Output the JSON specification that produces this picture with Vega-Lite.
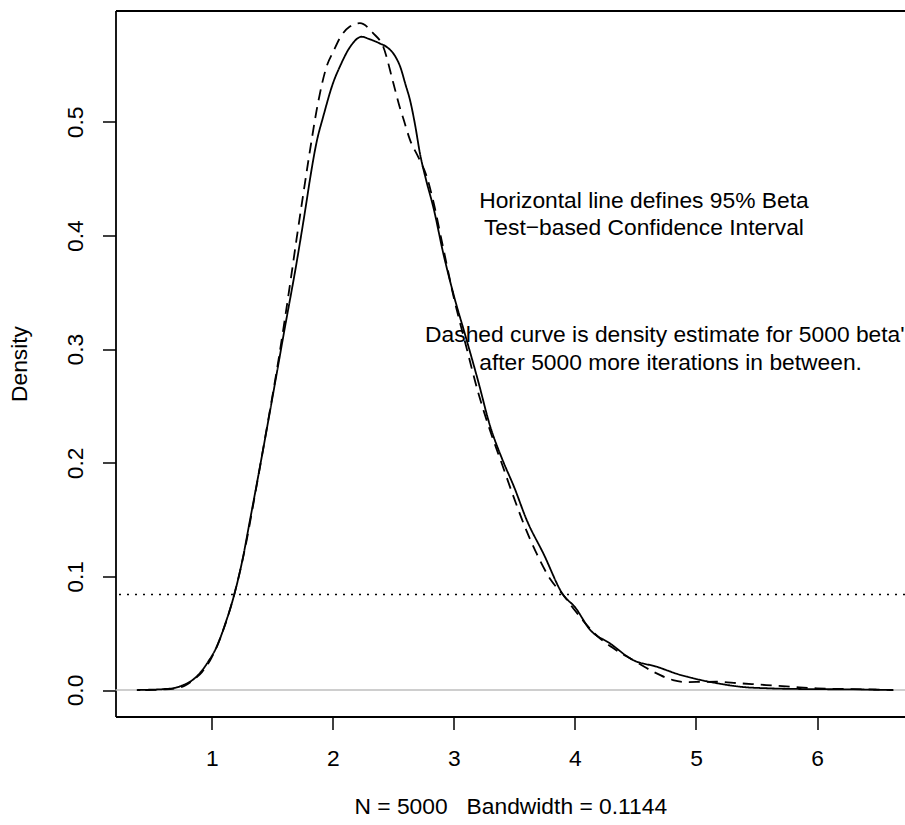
{
  "$schema": "https://vega.github.io/schema/vega-lite/v6.json",
  "width": 789.5,
  "height": 706,
  "autosize": "none",
  "padding": {"left": 115.5, "top": 10.5, "right": 0, "bottom": 108.5},
  "background": "white",
  "config": {"view": {"stroke": null}, "font": "Liberation Sans"},
  "datasets": {
    "curves": [
      {"series": "solid", "x": 0.38, "y": 0.0},
      {"series": "solid", "x": 0.5, "y": 0.0003},
      {"series": "solid", "x": 0.6, "y": 0.0008},
      {"series": "solid", "x": 0.7, "y": 0.002},
      {"series": "solid", "x": 0.764, "y": 0.0044},
      {"series": "solid", "x": 0.83, "y": 0.008},
      {"series": "solid", "x": 0.9, "y": 0.0147},
      {"series": "solid", "x": 0.97, "y": 0.025},
      {"series": "solid", "x": 1.04, "y": 0.038},
      {"series": "solid", "x": 1.11, "y": 0.058},
      {"series": "solid", "x": 1.18, "y": 0.082},
      {"series": "solid", "x": 1.25, "y": 0.113},
      {"series": "solid", "x": 1.316, "y": 0.15},
      {"series": "solid", "x": 1.4, "y": 0.198},
      {"series": "solid", "x": 1.5, "y": 0.257},
      {"series": "solid", "x": 1.6, "y": 0.317},
      {"series": "solid", "x": 1.7, "y": 0.376},
      {"series": "solid", "x": 1.784, "y": 0.431},
      {"series": "solid", "x": 1.81, "y": 0.449},
      {"series": "solid", "x": 1.867, "y": 0.483},
      {"series": "solid", "x": 1.921, "y": 0.505},
      {"series": "solid", "x": 2.004, "y": 0.535},
      {"series": "solid", "x": 2.059, "y": 0.549},
      {"series": "solid", "x": 2.142, "y": 0.566},
      {"series": "solid", "x": 2.238, "y": 0.575},
      {"series": "solid", "x": 2.3, "y": 0.573},
      {"series": "solid", "x": 2.39, "y": 0.569},
      {"series": "solid", "x": 2.445, "y": 0.566},
      {"series": "solid", "x": 2.514, "y": 0.558},
      {"series": "solid", "x": 2.555, "y": 0.549},
      {"series": "solid", "x": 2.6, "y": 0.533},
      {"series": "solid", "x": 2.638, "y": 0.519},
      {"series": "solid", "x": 2.68, "y": 0.497},
      {"series": "solid", "x": 2.72, "y": 0.472},
      {"series": "solid", "x": 2.77, "y": 0.449},
      {"series": "solid", "x": 2.83, "y": 0.425},
      {"series": "solid", "x": 2.913, "y": 0.384},
      {"series": "solid", "x": 3.0, "y": 0.347},
      {"series": "solid", "x": 3.1, "y": 0.31},
      {"series": "solid", "x": 3.2, "y": 0.272},
      {"series": "solid", "x": 3.3, "y": 0.232},
      {"series": "solid", "x": 3.4, "y": 0.203},
      {"series": "solid", "x": 3.5, "y": 0.178},
      {"series": "solid", "x": 3.6, "y": 0.15},
      {"series": "solid", "x": 3.74, "y": 0.12},
      {"series": "solid", "x": 3.904, "y": 0.0836},
      {"series": "solid", "x": 4.0, "y": 0.073},
      {"series": "solid", "x": 4.125, "y": 0.053},
      {"series": "solid", "x": 4.29, "y": 0.041},
      {"series": "solid", "x": 4.48, "y": 0.0264},
      {"series": "solid", "x": 4.676, "y": 0.0205},
      {"series": "solid", "x": 4.85, "y": 0.014},
      {"series": "solid", "x": 5.04, "y": 0.0088},
      {"series": "solid", "x": 5.2, "y": 0.0055},
      {"series": "solid", "x": 5.365, "y": 0.0029},
      {"series": "solid", "x": 5.6, "y": 0.0015},
      {"series": "solid", "x": 5.86, "y": 0.0009},
      {"series": "solid", "x": 6.1, "y": 0.0007},
      {"series": "solid", "x": 6.3, "y": 0.0006},
      {"series": "solid", "x": 6.5, "y": 0.0002},
      {"series": "solid", "x": 6.63, "y": 0.0},
      {"series": "dashed", "x": 0.45, "y": 0.0},
      {"series": "dashed", "x": 0.6, "y": 0.0005},
      {"series": "dashed", "x": 0.7, "y": 0.0015},
      {"series": "dashed", "x": 0.78, "y": 0.004},
      {"series": "dashed", "x": 0.847, "y": 0.0088},
      {"series": "dashed", "x": 0.92, "y": 0.016},
      {"series": "dashed", "x": 0.985, "y": 0.026},
      {"series": "dashed", "x": 1.04, "y": 0.038},
      {"series": "dashed", "x": 1.095, "y": 0.053},
      {"series": "dashed", "x": 1.18, "y": 0.082},
      {"series": "dashed", "x": 1.288, "y": 0.132},
      {"series": "dashed", "x": 1.35, "y": 0.168},
      {"series": "dashed", "x": 1.45, "y": 0.228},
      {"series": "dashed", "x": 1.55, "y": 0.29},
      {"series": "dashed", "x": 1.65, "y": 0.36},
      {"series": "dashed", "x": 1.7, "y": 0.397},
      {"series": "dashed", "x": 1.756, "y": 0.437},
      {"series": "dashed", "x": 1.811, "y": 0.475},
      {"series": "dashed", "x": 1.867, "y": 0.511},
      {"series": "dashed", "x": 1.949, "y": 0.549},
      {"series": "dashed", "x": 2.004, "y": 0.562},
      {"series": "dashed", "x": 2.059, "y": 0.574},
      {"series": "dashed", "x": 2.14, "y": 0.584},
      {"series": "dashed", "x": 2.224, "y": 0.587},
      {"series": "dashed", "x": 2.334, "y": 0.578},
      {"series": "dashed", "x": 2.417, "y": 0.566},
      {"series": "dashed", "x": 2.5, "y": 0.534},
      {"series": "dashed", "x": 2.555, "y": 0.512},
      {"series": "dashed", "x": 2.582, "y": 0.503},
      {"series": "dashed", "x": 2.638, "y": 0.484},
      {"series": "dashed", "x": 2.706, "y": 0.469},
      {"series": "dashed", "x": 2.775, "y": 0.452},
      {"series": "dashed", "x": 2.83, "y": 0.43},
      {"series": "dashed", "x": 2.9, "y": 0.395},
      {"series": "dashed", "x": 3.0, "y": 0.345},
      {"series": "dashed", "x": 3.1, "y": 0.303},
      {"series": "dashed", "x": 3.2, "y": 0.262},
      {"series": "dashed", "x": 3.3, "y": 0.228},
      {"series": "dashed", "x": 3.4, "y": 0.198},
      {"series": "dashed", "x": 3.5, "y": 0.168},
      {"series": "dashed", "x": 3.574, "y": 0.147},
      {"series": "dashed", "x": 3.684, "y": 0.12},
      {"series": "dashed", "x": 3.8, "y": 0.097},
      {"series": "dashed", "x": 3.904, "y": 0.0836},
      {"series": "dashed", "x": 4.0, "y": 0.07},
      {"series": "dashed", "x": 4.18, "y": 0.048},
      {"series": "dashed", "x": 4.3, "y": 0.038},
      {"series": "dashed", "x": 4.48, "y": 0.0264},
      {"series": "dashed", "x": 4.65, "y": 0.016},
      {"series": "dashed", "x": 4.81, "y": 0.0088},
      {"series": "dashed", "x": 4.92, "y": 0.007},
      {"series": "dashed", "x": 5.05, "y": 0.0072},
      {"series": "dashed", "x": 5.17, "y": 0.0073},
      {"series": "dashed", "x": 5.35, "y": 0.006},
      {"series": "dashed", "x": 5.58, "y": 0.0044},
      {"series": "dashed", "x": 5.8, "y": 0.0028},
      {"series": "dashed", "x": 6.0, "y": 0.0015},
      {"series": "dashed", "x": 6.3, "y": 0.0008},
      {"series": "dashed", "x": 6.63, "y": 0.0}
    ]
  },
  "resolve": {"axis": {"x": "independent"}},
  "layer": [
    {
      "data": {"values": [{"y": 0}]},
      "mark": {"type": "rule", "color": "#bebebe", "strokeWidth": 1.5},
      "encoding": {
        "y": {
          "field": "y", "type": "quantitative",
          "scale": {"domain": [-0.0233, 0.5981], "nice": false, "zero": false},
          "axis": {
            "values": [0, 0.1, 0.2, 0.3, 0.4, 0.5], "format": ".1f", "grid": false,
            "domainColor": "black", "domainWidth": 1.8,
            "tickSize": 13, "tickWidth": 1.5, "tickColor": "black",
            "labelFontSize": 22.8, "labelFont": "Liberation Sans", "labelColor": "black",
            "labelAngle": 270, "labelAlign": "center", "labelBaseline": "alphabetic", "labelPadding": 20,
            "labelFlush": false, "labelOverlap": false, "labelBound": false,
            "title": "Density",
            "titleFont": "Liberation Sans", "titleFontSize": 22.8, "titleFontWeight": "normal", "titleColor": "black",
            "titleAngle": 270, "titleX": -89.5, "titleY": 353, "titleAlign": "center", "titleBaseline": "alphabetic"
          }
        }
      }
    },
    {
      "data": {"values": [{"y": 0.084}]},
      "mark": {"type": "rule", "color": "black", "strokeWidth": 1.5, "strokeDash": [2, 6]},
      "encoding": {
        "y": {"field": "y", "type": "quantitative"}
      }
    },
    {
      "data": {"name": "curves"},
      "mark": {"type": "line", "color": "black", "strokeWidth": 1.8, "clip": true, "interpolate": "monotone"},
      "encoding": {
        "x": {
          "field": "x", "type": "quantitative",
          "scale": {"domain": [0.204, 6.727], "nice": false, "zero": false},
          "axis": {
            "orient": "bottom", "values": [1, 2, 3, 4, 5, 6], "format": "d", "grid": false,
            "domainColor": "black", "domainWidth": 1.8,
            "tickSize": 13, "tickWidth": 1.5, "tickColor": "black",
            "labelFontSize": 22.8, "labelFont": "Liberation Sans", "labelColor": "black",
            "labelBaseline": "alphabetic", "labelAlign": "center", "labelPadding": 35.5,
            "labelFlush": false, "labelOverlap": false, "labelBound": false,
            "title": "N = 5000\u00a0\u00a0\u00a0Bandwidth = 0.1144",
            "titleFont": "Liberation Sans", "titleFontSize": 22.8, "titleFontWeight": "normal", "titleColor": "black",
            "titleX": 394.75, "titleY": 97, "titleAlign": "center", "titleBaseline": "alphabetic"
          }
        },
        "y": {"field": "y", "type": "quantitative"},
        "detail": {"field": "series"},
        "strokeDash": {
          "field": "series", "type": "nominal",
          "scale": {"domain": ["solid", "dashed"], "range": [[1, 0], [11, 7]]},
          "legend": null
        }
      }
    },
    {
      "data": {"values": [{}]},
      "mark": {
        "type": "text", "font": "Liberation Sans", "fontSize": 22.8, "color": "black",
        "align": "center", "baseline": "middle", "lineHeight": 27,
        "text": ["Horizontal line defines 95% Beta", "\u00a0Test\u2212based Confidence Interval"]
      },
      "encoding": {
        "x": {
          "datum": 4.57, "type": "quantitative",
          "axis": {"orient": "top", "labels": false, "ticks": false, "grid": false, "title": null, "domainColor": "black", "domainWidth": 1.8}
        },
        "y": {"datum": 0.4305, "type": "quantitative"}
      }
    },
    {
      "data": {"values": [{}]},
      "mark": {
        "type": "text", "font": "Liberation Sans", "fontSize": 22.8, "color": "black",
        "align": "center", "baseline": "middle", "lineHeight": 28,
        "text": ["Dashed curve is density estimate for 5000 beta's", "after 5000 more iterations in between."]
      },
      "encoding": {
        "x": {"datum": 4.79, "type": "quantitative", "axis": null},
        "y": {"datum": 0.3125, "type": "quantitative"}
      }
    }
  ]
}
